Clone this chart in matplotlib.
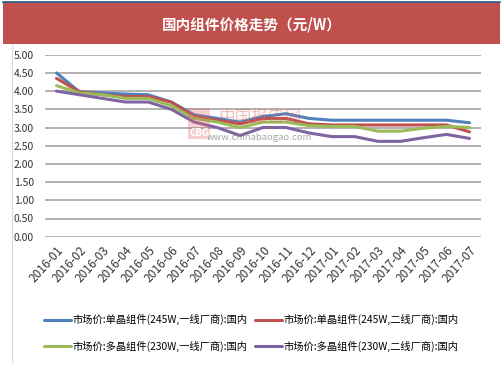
import matplotlib.pyplot as plt
from matplotlib.patches import Rectangle
from matplotlib.lines import Line2D

plt.rcParams['font.family'] = ['Noto Sans CJK SC', 'DejaVu Sans']

months = ['2016-01', '2016-02', '2016-03', '2016-04', '2016-05', '2016-06', '2016-07',
          '2016-08', '2016-09', '2016-10', '2016-11', '2016-12', '2017-01', '2017-02',
          '2017-03', '2017-04', '2017-05', '2017-06', '2017-07']

mono_tier1 = [4.50, 3.98, 3.95, 3.92, 3.90, 3.70, 3.35, 3.25, 3.15, 3.30, 3.38, 3.25,
              3.20, 3.20, 3.20, 3.20, 3.20, 3.20, 3.13]
mono_tier2 = [4.35, 3.98, 3.90, 3.85, 3.85, 3.70, 3.30, 3.20, 3.10, 3.25, 3.25, 3.10,
              3.07, 3.07, 3.07, 3.07, 3.07, 3.07, 2.88]
poly_tier1 = [4.15, 3.95, 3.90, 3.80, 3.80, 3.60, 3.25, 3.15, 3.00, 3.15, 3.15, 3.05,
              3.03, 3.03, 2.90, 2.90, 2.98, 3.03, 3.00]
poly_tier2 = [4.00, 3.90, 3.80, 3.70, 3.70, 3.50, 3.15, 3.00, 2.78, 3.00, 3.00, 2.85,
              2.75, 2.75, 2.62, 2.62, 2.72, 2.81, 2.70]

series_names = ['市场价:单晶组件(245W,一线厂商):国内', '市场价:单晶组件(245W,二线厂商):国内',
                '市场价:多晶组件(230W,一线厂商):国内', '市场价:多晶组件(230W,二线厂商):国内']
colors = ['#4F81BD', '#C0504D', '#9BBB59', '#8064A2']
title = '国内组件价格走势（元/W）'

fig = plt.figure(figsize=(5.03, 3.78), dpi=100)
W, H = 503, 378

# title banner
fig.patches.append(Rectangle((3 / W, 1 - 44 / H), 497 / W, 42 / H, transform=fig.transFigure,
                             facecolor='#C0504D', edgecolor='none'))
fig.lines.append(Line2D([3 / W, 500 / W], [1 - 2 / H, 1 - 2 / H], transform=fig.transFigure,
                        color='#1F5F8B', lw=1.2))
fig.text(0.5, 1 - 24 / H, title, color='white', fontsize=10.5, fontweight='bold',
         ha='center', va='center')
# left border line
fig.lines.append(Line2D([12 / W, 12 / W], [1 - 45 / H, 1 - 362 / H], transform=fig.transFigure,
                        color='#D9D9D9', lw=0.8))

ax = fig.add_axes([45 / W, 1 - 236.7 / H, 436 / W, 182 / H])
x = list(range(len(months)))
handles = []
for vals, name, c in zip([mono_tier1, mono_tier2, poly_tier1, poly_tier2], series_names, colors):
    h, = ax.plot(x, vals, color=c, lw=2.2, label=name, solid_capstyle='round', zorder=3)
    handles.append(h)

ax.set_xlim(-0.5, len(months) - 0.5)
ax.set_ylim(0, 5)
ax.set_yticks([i * 0.5 for i in range(11)])
ax.set_yticklabels(['%.2f' % (i * 0.5) for i in range(11)], fontsize=7.5, color='#333333')
ax.set_xticks(x)
ax.set_xticklabels(months, rotation=48, ha='right', rotation_mode='anchor', fontsize=8.5,
                   color='#333333')
ax.tick_params(axis='both', length=0)
ax.tick_params(axis='y', pad=8)
ax.tick_params(axis='x', pad=5)
ax.grid(axis='y', color='#A6A6A6', lw=1.2)
ax.set_axisbelow(True)
for s in ax.spines.values():
    s.set_visible(False)

# watermark
ax.add_patch(Rectangle((5.75, 2.69), 0.95, 0.85, facecolor='#E06666', alpha=0.3,
                       edgecolor='none', zorder=4))
ax.text(6.22, 2.85, 'CBG', color='white', fontsize=7, fontweight='bold', ha='center',
        va='center', zorder=5)
ax.text(8.86, 3.29, '中国报告网', color='#E06666', alpha=0.45, fontsize=12, ha='center',
        va='center', zorder=4)
ax.text(8.86, 2.72, 'www.chinabaogao.com', color='#808080', alpha=0.7, fontsize=6.8,
        ha='center', va='center', zorder=4)

order = [0, 2, 1, 3]
fig.legend([handles[i] for i in order], [series_names[i] for i in order],
           loc='upper center', bbox_to_anchor=(0.5, 1 - 305 / H), ncol=2, frameon=False,
           fontsize=7.4, handlelength=2.6, columnspacing=0.7, handletextpad=0.2,
           labelspacing=1.5)

fig.savefig('out.png', dpi=100, facecolor='white')
